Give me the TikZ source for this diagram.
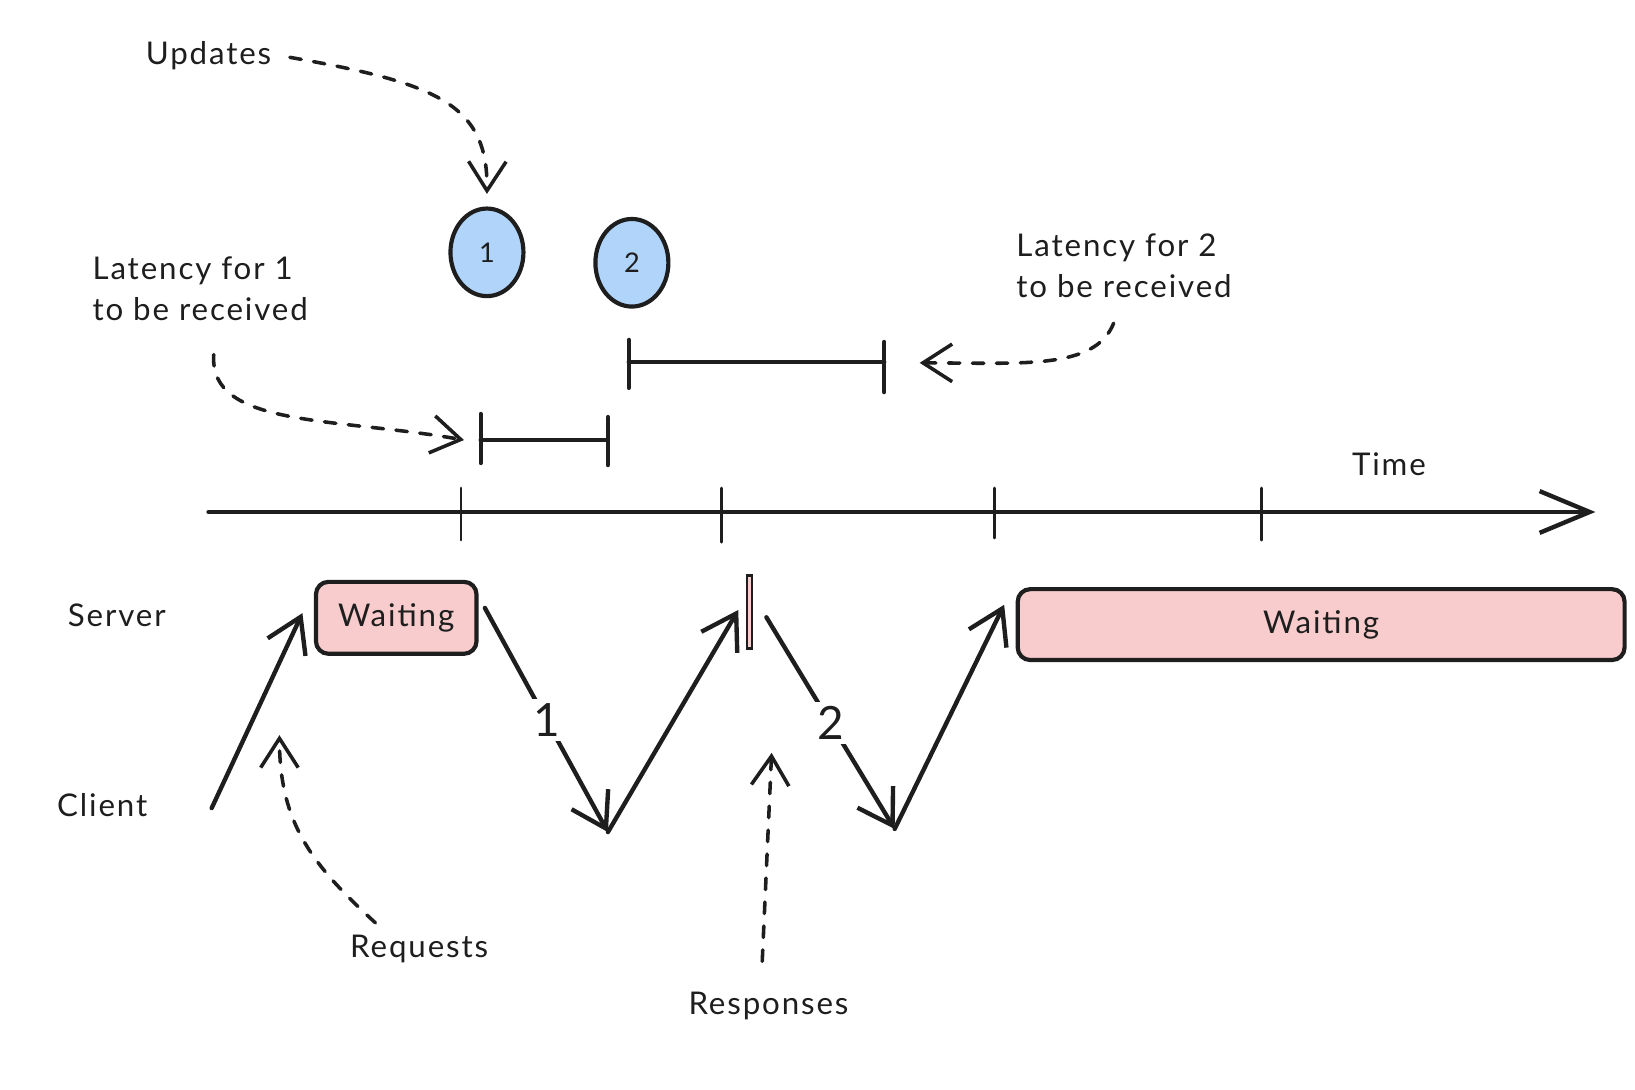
\documentclass[tikz,border=0pt]{standalone}
\usepackage{fontspec}
\setmainfont{Lato}[LetterSpace=6.0]
\newfontfamily\numfont{Lato}
\usetikzlibrary{arrows.meta,shapes.geometric}
\definecolor{ink}{HTML}{1E1E1E}
\definecolor{bluefill}{HTML}{B0D4FA}
\definecolor{pinkfill}{HTML}{F8CCCC}
\tikzset{
  ln/.style={line width=4.2pt,draw=ink,line cap=round,line join=round},
  thin/.style={line width=2.6pt,draw=ink,line cap=round},
  arr/.style={ln,-{Straight Barb[length=32pt,width=40pt]}},
  dsh/.style={line width=3.4pt,draw=ink,line cap=round,dash pattern=on 11pt off 12pt,-{Straight Barb[length=28pt,width=36pt]}},
  lbl/.style={font=\fontsize{30}{40}\selectfont,text=ink,align=left,inner sep=0pt},
  bubble/.style={ellipse,draw=ink,line width=4pt,fill=bluefill,minimum width=70pt,minimum height=84pt,font=\numfont\fontsize{26}{30}\selectfont,text=ink},
  waitbox/.style={rectangle,rounded corners=12pt,draw=ink,line width=4pt,fill=pinkfill,font=\fontsize{30}{34}\selectfont,text=ink},
  numlbl/.style={font=\numfont\fontsize{44}{50}\selectfont,text=ink,fill=white,inner sep=4pt}
}
\begin{document}
\begin{tikzpicture}[x=1pt,y=-1pt]
\useasboundingbox (0,0) rectangle (1568,1045.3);

% texts
\node[lbl] (upd) at (200,53) {Updates};
\node[lbl] (lat1) at (192,277) {Latency for 1\\to be received};
\node[lbl] (lat2) at (1078,255) {Latency for 2\\to be received};
\node[lbl] (time) at (1332,445) {Time};
\node[lbl] (server) at (112,590) {Server};
\node[lbl] (client) at (98,772) {Client};
\node[lbl] (req) at (402,910) {Requests};
\node[lbl] (resp) at (737,965) {Responses};

% update bubbles
\node[bubble] (c1) at (467,242) {1};
\node[bubble] (c2) at (606,252) {2};

% latency bars
\coordinate (b1a) at (461,422); \coordinate (b1b) at (583,422);
\coordinate (b2a) at (603,347); \coordinate (b2b) at (848,347);
\draw[ln] (b1a) -- (b1b);
\draw[ln] ([yshift=-22pt]b1a) -- ([yshift=25pt]b1a);
\draw[ln] ([yshift=-24pt]b1b) -- ([yshift=22pt]b1b);
\draw[ln] (b2a) -- (b2b);
\draw[ln] ([yshift=-25pt]b2a) -- ([yshift=21pt]b2a);
\draw[ln] ([yshift=-29pt]b2b) -- ([yshift=19pt]b2b);

% time axis
\coordinate (ax0) at (200,491); \coordinate (ax1) at (1530,491);
\draw[ln,-{Straight Barb[length=48pt,width=40pt]}] (ax0) -- (ax1);
\foreach \t/\a/\b in {t1/442/518,t2/692/520,t3/954/516,t4/1210/518}{
  \coordinate (\t) at (\a,491);
  \draw[thin] (\a,468) -- (\a,\b);
}

% waiting boxes
\node[waitbox,minimum width=154pt,minimum height=69pt] (w1) at (380,592.5) {Waiting};
\node[waitbox,minimum width=582pt,minimum height=68pt] (w2) at (1267,599) {Waiting};
\node[rectangle,draw=ink,line width=2.2pt,fill=pinkfill,minimum width=5pt,minimum height=70pt,inner sep=0pt] (db) at (719,587) {};

% request / response zig-zag
\coordinate (cl1) at (203,775);
\coordinate (sv1) at (290,588);
\coordinate (sv2) at (465,583);
\coordinate (cl2) at (583,798);
\coordinate (sv3) at (708,585);
\coordinate (sv4) at (735,592);
\coordinate (cl3) at (858,795);
\coordinate (sv5) at (963,580);
\draw[arr] (cl1) -- (sv1);
\draw[arr] (sv2) -- node[numlbl,pos=0.5] (n1) {1} (cl2);
\draw[arr] (cl2) -- (sv3);
\draw[arr] (sv4) -- node[numlbl,pos=0.5] (n2) {2} (cl3);
\draw[arr] (cl3) -- (sv5);

% dashed annotation arrows
\coordinate (updS) at (278,55);
\coordinate (c1top) at (467,186);
\draw[dsh] (updS) .. controls (420,80) and (468,100) .. (c1top);

\coordinate (lat2S) at (1068,310);
\coordinate (bar2end) at (882,348);
\draw[dsh] (lat2S) .. controls (1050,355) and (980,348) .. (bar2end);

\coordinate (lat1S) at (205,340);
\coordinate (bar1start) at (445,422);
\draw[dsh] (lat1S) .. controls (200,410) and (320,400) .. (bar1start);

\coordinate (reqS) at (360,885);
\coordinate (reqE) at (268,705);
\draw[dsh] (reqS) .. controls (300,830) and (268,790) .. (reqE);

\coordinate (respS) at (731,922);
\coordinate (respE) at (740,722);
\draw[dsh] (respS) -- (respE);
\end{tikzpicture}
\end{document}
